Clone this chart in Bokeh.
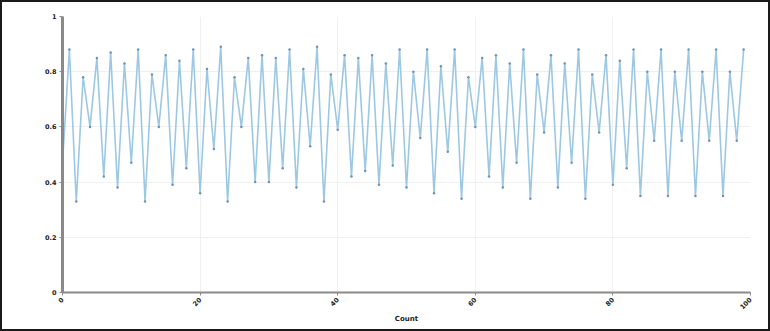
import math
from bokeh.plotting import figure
from bokeh.layouts import column
from bokeh.models import ColumnDataSource, FixedTicker, Range1d
from bokeh.embed import file_html
from bokeh.resources import INLINE

x_values = list(range(100))
y_values = [
    0.47, 0.88, 0.33, 0.78, 0.60, 0.85, 0.42, 0.87, 0.38, 0.83,
    0.47, 0.88, 0.33, 0.79, 0.60, 0.86, 0.39, 0.84, 0.45, 0.88,
    0.36, 0.81, 0.52, 0.89, 0.33, 0.78, 0.60, 0.85, 0.40, 0.86,
    0.40, 0.85, 0.45, 0.88, 0.38, 0.81, 0.53, 0.89, 0.33, 0.79,
    0.59, 0.86, 0.42, 0.85, 0.44, 0.86, 0.39, 0.83, 0.46, 0.88,
    0.38, 0.80, 0.56, 0.88, 0.36, 0.82, 0.51, 0.88, 0.34, 0.78,
    0.60, 0.85, 0.42, 0.86, 0.38, 0.83, 0.47, 0.88, 0.34, 0.79,
    0.58, 0.86, 0.38, 0.83, 0.47, 0.88, 0.34, 0.79, 0.58, 0.86,
    0.39, 0.84, 0.45, 0.88, 0.35, 0.80, 0.55, 0.88, 0.35, 0.80,
    0.55, 0.88, 0.35, 0.80, 0.55, 0.88, 0.35, 0.80, 0.55, 0.88,
]
x_ticks = [0, 20, 40, 60, 80, 100]
y_ticks = [0, 0.2, 0.4, 0.6, 0.8, 1]
x_label = "Count"

src = ColumnDataSource(data=dict(x=x_values, y=y_values))

p = figure(width=766, height=327, output_backend="svg", toolbar_location=None,
           x_range=Range1d(0, 100), y_range=Range1d(0, 1),
           min_border_left=60, min_border_right=18, min_border_top=14, min_border_bottom=37)
p.outline_line_color = None

p.line("x", "y", source=src, line_color="#9cc8e4", line_width=1.6)
p.scatter("x", "y", source=src, size=2.5, fill_color="#6f93b3", line_color=None)

for ax in (p.xaxis[0], p.yaxis[0]):
    ax.axis_line_color = "#8a8a8a"
    ax.major_tick_line_color = "#8a8a8a"
    ax.minor_tick_line_color = None
    ax.major_tick_out = 3
    ax.major_tick_in = 0
    ax.major_label_text_font = "DejaVu Sans"
    ax.major_label_text_font_size = "6.5px"
    ax.major_label_text_font_style = "bold"
    ax.major_label_text_color = "#222222"
    ax.major_label_standoff = 3

p.yaxis[0].axis_line_width = 3
p.xaxis[0].axis_line_width = 2
p.xaxis[0].ticker = FixedTicker(ticks=x_ticks)
p.yaxis[0].ticker = FixedTicker(ticks=y_ticks)
p.yaxis[0].major_label_overrides = {0: "0", 1: "1"}
p.xaxis[0].major_label_orientation = math.pi / 4
p.xaxis[0].axis_label = x_label
p.xaxis[0].axis_label_text_font = "DejaVu Sans"
p.xaxis[0].axis_label_text_font_size = "7px"
p.xaxis[0].axis_label_text_font_style = "bold"
p.xaxis[0].axis_label_text_color = "#222222"
p.xaxis[0].axis_label_standoff = 0

p.xgrid.ticker = FixedTicker(ticks=x_ticks)
p.ygrid.ticker = FixedTicker(ticks=y_ticks)
p.xgrid.grid_line_color = "#f0f0f0"
p.ygrid.grid_line_color = "#f0f0f0"

layout = column(p, styles={"border": "2px solid #1a1a1a"})

open("out.html", "w").write(file_html(layout, INLINE))
